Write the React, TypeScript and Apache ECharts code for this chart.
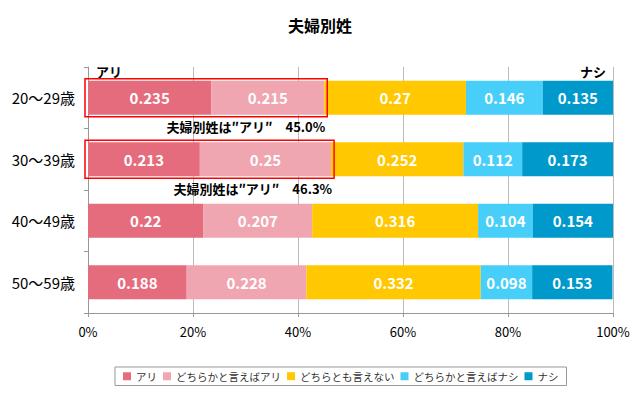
import React, { useEffect, useRef } from "react";
import * as echarts from "echarts";

const categories = ["20～29歳", "30～39歳", "40～49歳", "50～59歳"];
const seriesNames = ["アリ", "どちらかと言えばアリ", "どちらとも言えない", "どちらかと言えばナシ", "ナシ"];
const ari = [0.235, 0.213, 0.22, 0.188];
const yaAri = [0.215, 0.25, 0.207, 0.228];
const neither = [0.27, 0.252, 0.316, 0.332];
const yaNashi = [0.146, 0.112, 0.104, 0.098];
const nashi = [0.135, 0.173, 0.154, 0.153];
const xTicks = [0, 0.2, 0.4, 0.6, 0.8, 1];
const annotRows = [0, 1];
const annotTexts = ["夫婦別姓は″アリ″　45.0%", "夫婦別姓は″アリ″　46.3%"];

const colors = ["#E56C7D", "#F0A6B0", "#FFC800", "#47CFFA", "#0099CC"];
const FONT = "'Noto Sans CJK JP', 'Noto Sans', sans-serif";

export default function App() {
  const ref = useRef<HTMLDivElement>(null);
  useEffect(() => {
    if (!ref.current) return;
    const chart = echarts.init(ref.current, null, { renderer: "svg" });
    const data = [ari, yaAri, neither, yaNashi, nashi];
    const option: any = {
      animation: false,
      textStyle: { fontFamily: FONT },
      title: {
        text: "夫婦別姓",
        left: "center",
        top: 12,
        textStyle: { fontSize: 16, fontWeight: "bold", color: "#000", fontFamily: FONT },
      },
      legend: {
        left: 115,
        top: 367,
        icon: "rect",
        itemWidth: 8,
        itemHeight: 8,
        itemGap: 6,
        padding: [4, 8],
        borderColor: "#999",
        borderWidth: 1,
        textStyle: { fontSize: 10.5, color: "#333", fontFamily: FONT },
        data: seriesNames,
      },
      grid: { left: 88, right: 27, top: 67, bottom: 81, containLabel: false },
      xAxis: {
        type: "value",
        min: 0,
        max: 1,
        interval: 0.2,
        axisLine: { show: true, lineStyle: { color: "#999" } },
        axisTick: { show: true, length: 4, lineStyle: { color: "#999" } },
        splitLine: { show: true, lineStyle: { color: "#BBB" } },
        axisLabel: {
          margin: 12,
          fontSize: 13,
          color: "#000",
          fontFamily: FONT,
          formatter: (v: number) => (xTicks.includes(Math.round(v * 10) / 10) ? Math.round(v * 100) + "%" : ""),
        },
      },
      yAxis: {
        type: "category",
        inverse: true,
        data: categories,
        axisLine: { show: true, lineStyle: { color: "#999" } },
        axisTick: { show: true, length: 4, lineStyle: { color: "#999" } },
        axisLabel: { margin: 13, fontSize: 15, color: "#000", fontFamily: FONT },
      },
      series: seriesNames.map((name, i) => ({
        name,
        type: "bar",
        stack: "total",
        barWidth: 34,
        itemStyle: { color: colors[i] },
        label: {
          show: true,
          position: "inside",
          color: "#fff",
          fontSize: 15,
          fontWeight: "bold",
          fontFamily: FONT,
          formatter: (p: any) => String(p.value),
        },
        data: data[i],
      })),
    };
    chart.setOption(option);

    const graphics: any[] = [];
    annotRows.forEach((row, k) => {
      const x0 = chart.convertToPixel({ xAxisIndex: 0 }, 0) as number;
      const x1 = chart.convertToPixel({ xAxisIndex: 0 }, ari[row] + yaAri[row]) as number;
      const cy = chart.convertToPixel({ yAxisIndex: 0 }, categories[row]) as number;
      graphics.push({
        type: "rect",
        shape: { x: x0 - 3, y: cy - 19, width: x1 - x0 + 6, height: 38 },
        style: { fill: "none", stroke: "#FF0000", lineWidth: 1.5 },
        z: 10,
      });
      graphics.push({
        type: "text",
        x: x1 + 1,
        y: cy + 29,
        style: {
          text: annotTexts[k],
          align: "right",
          verticalAlign: "middle",
          fontSize: 13,
          fontWeight: "bold",
          fill: "#000",
          fontFamily: FONT,
        },
        z: 10,
      });
    });
    const gx0 = chart.convertToPixel({ xAxisIndex: 0 }, 0) as number;
    const gx1 = chart.convertToPixel({ xAxisIndex: 0 }, 1) as number;
    graphics.push({
      type: "text",
      x: gx0 + 8,
      y: 71,
      style: { text: "アリ", align: "left", verticalAlign: "middle", fontSize: 13, fontWeight: "bold", fill: "#000", fontFamily: FONT },
    });
    graphics.push({
      type: "text",
      x: gx1 - 7,
      y: 71,
      style: { text: "ナシ", align: "right", verticalAlign: "middle", fontSize: 13, fontWeight: "bold", fill: "#000", fontFamily: FONT },
    });
    chart.setOption({ graphic: graphics });

    return () => chart.dispose();
  }, []);
  return <div ref={ref} style={{ width: 640, height: 394, position: "absolute", left: 0, top: 0 }} />;
}
